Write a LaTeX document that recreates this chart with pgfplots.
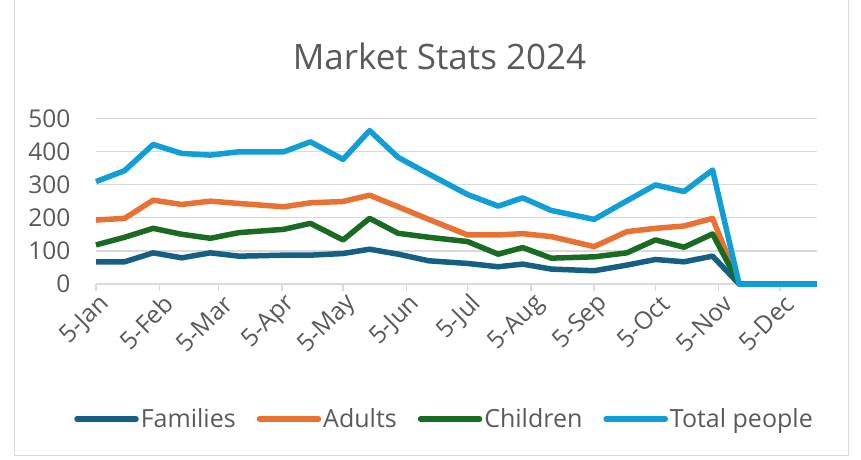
\documentclass[border=0pt]{standalone}
\usepackage{fontspec}
\setmainfont{Open Sans}
\usepackage{pgfplots}
\pgfplotsset{compat=1.18}
\definecolor{fam}{HTML}{156082}
\definecolor{adu}{HTML}{E97132}
\definecolor{chi}{HTML}{196B24}
\definecolor{tot}{HTML}{0F9ED5}
\definecolor{gridc}{HTML}{D9D9D9}
\definecolor{txt}{HTML}{595959}
\begin{document}
\begin{tikzpicture}[x=1pt,y=1pt]
\useasboundingbox (0,0) rectangle (861,459);
\draw[gridc, line width=1pt] (14,4) rectangle (848,470);
\node[anchor=base, text=txt, font=\fontsize{35}{42}\selectfont] at (439.5,389) {Market Stats 2024};
\begin{axis}[
  at={(96pt,175pt)}, anchor=south west,
  width=720.7pt, height=165.7pt, scale only axis,
  xmin=0, xmax=353, ymin=0, ymax=500,
  clip=false,
  separate axis lines,
  axis x line*=bottom, axis y line*=left,
  x axis line style={draw=gridc, line width=1.5pt, -},
  y axis line style={draw=none},
  ytick={0,100,200,300,400,500},
  ymajorgrids, grid style={draw=gridc, line width=1.5pt},
  ytick style={draw=none},
  xtick={0,31,60,91,121,152,182,213,244,274,305,335},
  xticklabels={5-Jan,5-Feb,5-Mar,5-Apr,5-May,5-Jun,5-Jul,5-Aug,5-Sep,5-Oct,5-Nov,5-Dec},
  xtick style={draw=gridc, line width=1.5pt},
  tick align=outside, major tick length=7pt,
  tick label style={text=txt, font=\fontsize{24.5}{29}\selectfont},
  /pgf/number format/assume math mode=true,
  yticklabel style={anchor=east, xshift=-15pt},
  xticklabel style={rotate=45, anchor=east, xshift=4pt, yshift=-13pt},
  every axis plot/.append style={line width=5.5pt, line join=round, no markers},
  legend columns=-1,
  legend style={draw=none, fill=none, at={(0.4836,-0.8147)}, anchor=center,
    font=\fontsize{25}{30}\selectfont, text=txt,
    /tikz/every even column/.append style={column sep=19pt}},
  legend image code/.code={\draw[#1, line cap=round] (0pt,0pt) -- (59pt,0pt);},
]
\addplot[fam] coordinates {(0,67)(14,67)(28,94)(42,79)(56,94)(70,84)(92,87)(105,87)(121,92)(134,105)(148,90)(163,70)(182,62)(197,52)(209,60)(223,45)(244,40)(260,57)(274,74)(288,67)(302,84)(315,0)(329,0)(343,0)(353,0)};
\addlegendentry{Families}
\addplot[adu] coordinates {(0,193)(14,198)(28,253)(42,240)(56,250)(70,243)(92,233)(105,245)(121,249)(134,268)(148,233)(163,195)(182,148)(197,148)(209,152)(223,143)(244,113)(260,158)(274,168)(288,175)(302,198)(315,0)(329,0)(343,0)(353,0)};
\addlegendentry{Adults}
\addplot[chi] coordinates {(0,118)(14,141)(28,168)(42,150)(56,138)(70,155)(92,165)(105,183)(121,133)(134,198)(148,153)(163,141)(182,128)(197,90)(209,110)(223,78)(244,82)(260,94)(274,133)(288,111)(302,151)(315,0)(329,0)(343,0)(353,0)};
\addlegendentry{Children}
\addplot[tot] coordinates {(0,309)(14,342)(28,421)(42,394)(56,389)(70,399)(92,399)(105,429)(121,376)(134,463)(148,382)(163,332)(182,270)(197,235)(209,260)(223,222)(244,195)(260,251)(274,299)(288,279)(302,344)(315,0)(329,0)(343,0)(353,0)};
\addlegendentry{Total people}
\end{axis}
\end{tikzpicture}
\end{document}
